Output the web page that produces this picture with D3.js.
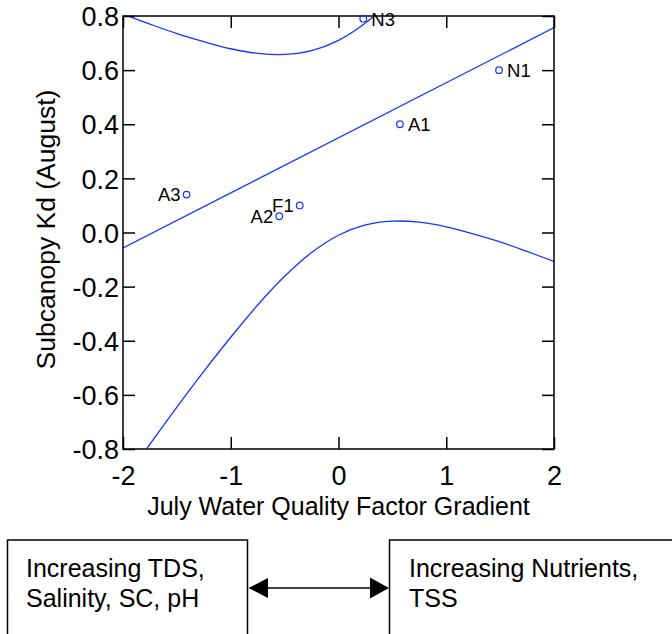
<!DOCTYPE html>
<html>
<head>
<meta charset="utf-8">
<script src="https://cdn.jsdelivr.net/npm/d3@7/dist/d3.min.js"></script>
<style>
  html, body { margin: 0; padding: 0; background: #fff; }
  svg { display: block; }
  text { font-family: "Liberation Sans", Arial, Helvetica, sans-serif; fill: #000; }
</style>
</head>
<body>
<script>
// ---------- data ----------
const siteLabels = ["N3", "N1", "A1", "A3", "A2", "F1"];
const waterQualityGradient = [0.23, 1.49, 0.57, -1.41, -0.55, -0.36];
const subcanopyKd = [0.79, 0.60, 0.40, 0.14, 0.06, 0.10];

const fitX = [-2, 2];
const fitY = [-0.057, 0.757];

const upperBandX = [-2, -1.75, -1.5, -1.25, -1, -0.75, -0.5, -0.25, 0, 0.25, 0.5, 0.75];
const upperBandY = [0.807, 0.770, 0.735, 0.705, 0.679, 0.662, 0.658, 0.672, 0.710, 0.774, 0.862, 0.968];

const lowerBandX = [-2, -1.75, -1.5, -1.25, -1, -0.75, -0.5, -0.25, 0, 0.25, 0.5, 0.75, 1, 1.25, 1.5, 1.75, 2];
const lowerBandY = [-0.921, -0.782, -0.645, -0.513, -0.387, -0.268, -0.162, -0.074, -0.010, 0.028, 0.042, 0.038, 0.021, -0.005, -0.035, -0.070, -0.107];

const xTicks = [-2, -1, 0, 1, 2];
const yTicks = [-0.8, -0.6, -0.4, -0.2, 0.0, 0.2, 0.4, 0.6, 0.8];

const xTitle = "July Water Quality Factor Gradient";
const yTitle = "Subcanopy Kd (August)";
const leftBoxLines = ["Increasing TDS,", "Salinity, SC, pH"];
const rightBoxLines = ["Increasing Nutrients,", "TSS"];

// ---------- drawing ----------
const W = 672, H = 634;
const X0 = 123, X1 = 554, Y0 = 16, Y1 = 449;
const blue = "#1236ff";

const svg = d3.select("body").append("svg").attr("width", W).attr("height", H);

const x = d3.scaleLinear().domain([-2, 2]).range([X0, X1]);
const y = d3.scaleLinear().domain([-0.8, 0.8]).range([Y1, Y0]);

svg.append("defs").append("clipPath").attr("id", "plotclip")
  .append("rect").attr("x", X0).attr("y", Y0).attr("width", X1 - X0).attr("height", Y1 - Y0);

const plot = svg.append("g").attr("clip-path", "url(#plotclip)");

const line = d3.line().x(d => x(d[0])).y(d => y(d[1]));
const smooth = d3.line().x(d => x(d[0])).y(d => y(d[1])).curve(d3.curveCatmullRom.alpha(0.5));

plot.append("path").datum(fitX.map((v, i) => [v, fitY[i]]))
  .attr("d", line).attr("fill", "none").attr("stroke", blue).attr("stroke-width", 1.3);
plot.append("path").datum(upperBandX.map((v, i) => [v, upperBandY[i]]))
  .attr("d", smooth).attr("fill", "none").attr("stroke", blue).attr("stroke-width", 1.3);
plot.append("path").datum(lowerBandX.map((v, i) => [v, lowerBandY[i]]))
  .attr("d", smooth).attr("fill", "none").attr("stroke", blue).attr("stroke-width", 1.3);

// axes (inward ticks on all four sides)
const tick = 12;
const hyphen = s => s.replace(/\u2212/g, "-");
const axB = svg.append("g").attr("transform", `translate(0,${Y1})`)
  .call(d3.axisBottom(x).tickValues(xTicks).tickSizeInner(-tick).tickSizeOuter(0).tickFormat(d => hyphen(d3.format("d")(d))));
const axT = svg.append("g").attr("transform", `translate(0,${Y0})`)
  .call(d3.axisTop(x).tickValues(xTicks).tickSizeInner(-tick).tickSizeOuter(0).tickFormat(""));
const axL = svg.append("g").attr("transform", `translate(${X0},0)`)
  .call(d3.axisLeft(y).tickValues(yTicks).tickSizeInner(-tick).tickSizeOuter(0).tickFormat(d => hyphen(d3.format(".1f")(d))));
const axR = svg.append("g").attr("transform", `translate(${X1},0)`)
  .call(d3.axisRight(y).tickValues(yTicks).tickSizeInner(-tick).tickSizeOuter(0).tickFormat(""));

[axB, axT, axL, axR].forEach(a => {
  a.selectAll(".domain").remove();
  a.selectAll(".tick line").attr("stroke", "#000").attr("stroke-width", 1.5);
});
axB.selectAll(".tick text").attr("y", 0).attr("dy", 0)
  .attr("transform", "translate(0,36)")
  .style("font-size", "27px").style("font-family", "Liberation Sans, Arial, sans-serif").attr("fill", "#000");
axL.selectAll(".tick text").attr("x", -4).attr("dy", "0.36em")
  .style("font-size", "27px").style("font-family", "Liberation Sans, Arial, sans-serif").attr("fill", "#000");

svg.append("rect").attr("x", X0).attr("y", Y0).attr("width", X1 - X0).attr("height", Y1 - Y0)
  .attr("fill", "none").attr("stroke", "#000").attr("stroke-width", 1.5);

// points + labels
const leftLabelled = new Set(["A3", "A2", "F1"]);
const pts = svg.append("g");
siteLabels.forEach((lab, i) => {
  const px = x(waterQualityGradient[i]), py = y(subcanopyKd[i]);
  pts.append("circle").attr("cx", px).attr("cy", py).attr("r", 3.3)
    .attr("fill", "none").attr("stroke", blue).attr("stroke-width", 1.2);
  const left = leftLabelled.has(lab);
  pts.append("text").attr("x", left ? px - 6 : px + 8).attr("y", py).attr("dy", "0.37em")
    .attr("text-anchor", left ? "end" : "start").style("font-size", "18.5px").text(lab);
});

// axis titles
svg.append("text").attr("x", (X0 + X1) / 2).attr("y", 515).attr("text-anchor", "middle")
  .style("font-size", "25px").text(xTitle);
svg.append("text").attr("transform", `translate(55,${(Y0 + Y1) / 2 - 3}) rotate(-90)`)
  .attr("text-anchor", "middle").style("font-size", "26.5px").text(yTitle);

// bottom boxes and arrow
svg.append("rect").attr("x", 7.5).attr("y", 540).attr("width", 240).attr("height", 200)
  .attr("fill", "none").attr("stroke", "#000").attr("stroke-width", 1.5);
svg.append("rect").attr("x", 389.5).attr("y", 540).attr("width", 320).attr("height", 200)
  .attr("fill", "none").attr("stroke", "#000").attr("stroke-width", 1.5);
leftBoxLines.forEach((t, i) => svg.append("text").attr("x", 26).attr("y", 577 + i * 29.5)
  .style("font-size", "25px").text(t));
rightBoxLines.forEach((t, i) => svg.append("text").attr("x", 409).attr("y", 577 + i * 29.5)
  .style("font-size", "25px").text(t));
svg.append("line").attr("x1", 266).attr("x2", 372).attr("y1", 588).attr("y2", 588)
  .attr("stroke", "#000").attr("stroke-width", 1.5);
svg.append("path").attr("d", "M248.5,588 L268,578 L268,598 Z").attr("fill", "#000");
svg.append("path").attr("d", "M389,588 L370,577.5 L370,598.5 Z").attr("fill", "#000");
</script>
</body>
</html>
